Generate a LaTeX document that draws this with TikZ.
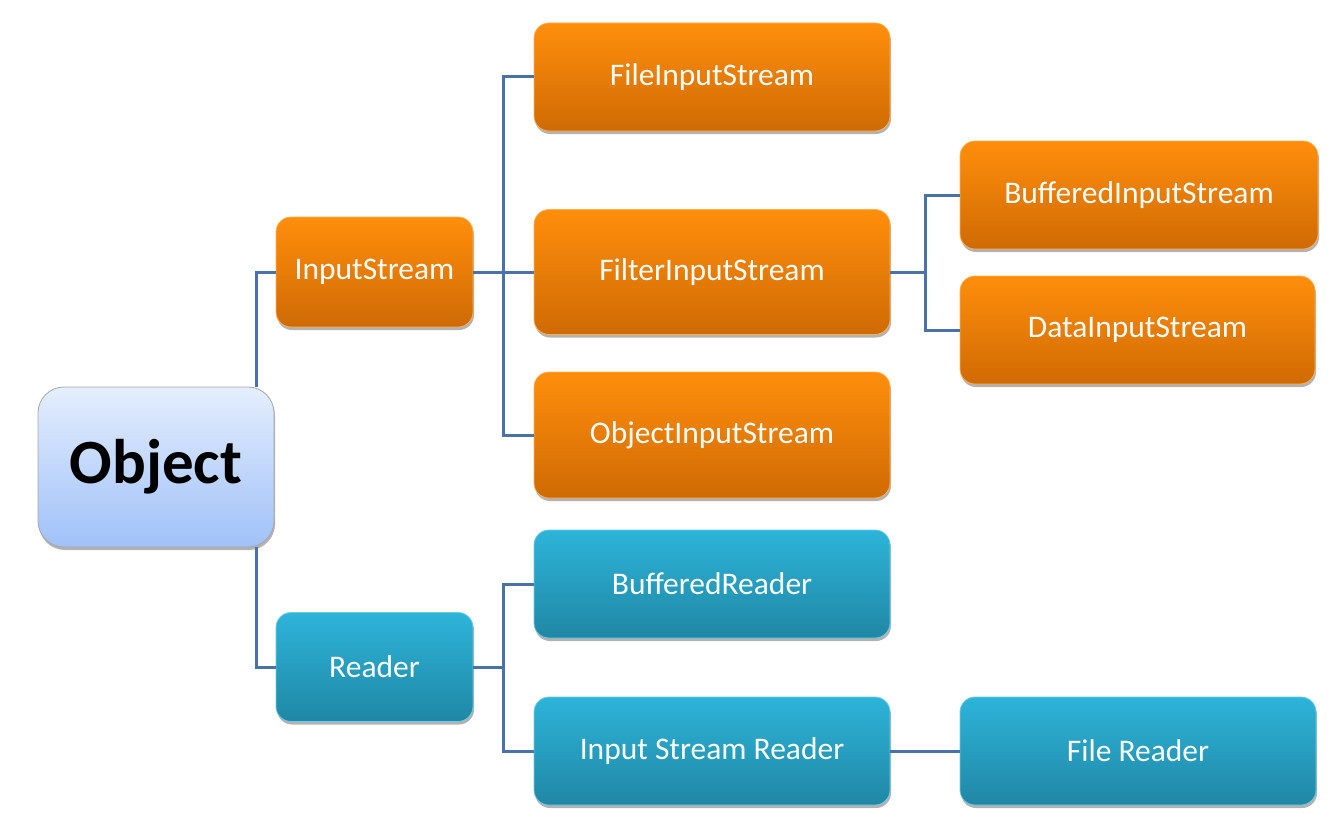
\documentclass[tikz,border=0pt]{standalone}
\usepackage{fontspec}
\setmainfont{Carlito}
\usetikzlibrary{shadows}
\definecolor{linkblue}{HTML}{4A72A8}
\definecolor{orgtop}{HTML}{FF8E0B}
\definecolor{orgbot}{HTML}{CF6A04}
\definecolor{cyntop}{HTML}{2DB4D9}
\definecolor{cynbot}{HTML}{2087A5}
\definecolor{objtop}{HTML}{E4EEFD}
\definecolor{objbot}{HTML}{A0C1F9}
\tikzset{
  box/.style={rounded corners=15pt, inner sep=0pt, minimum width=356pt, minimum height=108pt,
    text=white, font=\fontsize{31.5}{36}\selectfont, line width=0.8pt,
    drop shadow={shadow xshift=1pt, shadow yshift=-3pt, opacity=.3, fill=black}},
  orgbox/.style={box, draw=orgtop!70!white, top color=orgtop, middle color=orgtop!95!orgbot, bottom color=orgbot},
  cynbox/.style={box, draw=cyntop!70!white, top color=cyntop, middle color=cyntop!85!cynbot, bottom color=cynbot},
  link/.style={draw=linkblue, line width=3pt}
}
\begin{document}
\begin{tikzpicture}[x=1pt,y=-1pt]
\useasboundingbox (0,0) rectangle (1340,824);
% root
\node[box, rounded corners=26pt, minimum width=236pt, minimum height=160pt, draw=gray!70,
  top color=objtop, bottom color=objbot, text=black, font=\bfseries\fontsize{63}{70}\selectfont]
  (obj) at (156,467) {Object};
% streams
\node[orgbox, minimum width=197pt, minimum height=110pt] (ins) at (374.5,272) {InputStream};
\node[orgbox] (fin) at (712,77) {FileInputStream};
\node[orgbox, minimum height=125pt] (flt) at (712,272) {FilterInputStream};
\node[orgbox, minimum height=126pt] (ois) at (712,435) {ObjectInputStream};
\node[orgbox, minimum width=358pt] (bis) at (1139,195) {BufferedInputStream};
\node[orgbox, minimum width=355pt] (dis) at (1137.5,330) {DataInputStream};
% readers
\node[cynbox, minimum width=197pt, minimum height=109pt] (rdr) at (374.5,667) {Reader};
\node[cynbox] (brd) at (712,584) {BufferedReader};
\node[cynbox] (isr) at (712,751) {Input Stream Reader};
\node[cynbox] (frd) at (1138,751) {File Reader};
% connectors
\draw[link] ([xshift=-18pt]obj.north east) |- (ins.west);
\draw[link] ([xshift=-18pt]obj.south east) |- (rdr.west);
\draw[link] (ins.east) -- (flt.west);
\draw[link] (fin.west) -| ([xshift=30pt]ins.east) |- (ois.west);
\draw[link] (flt.east) -- ([xshift=35pt]flt.east);
\draw[link] (bis.west) -| ([xshift=35pt]flt.east) |- (dis.west);
\draw[link] (rdr.east) -- ([xshift=30pt]rdr.east);
\draw[link] (brd.west) -| ([xshift=30pt]rdr.east) |- (isr.west);
\draw[link] (isr.east) -- (frd.west);
\end{tikzpicture}
\end{document}
